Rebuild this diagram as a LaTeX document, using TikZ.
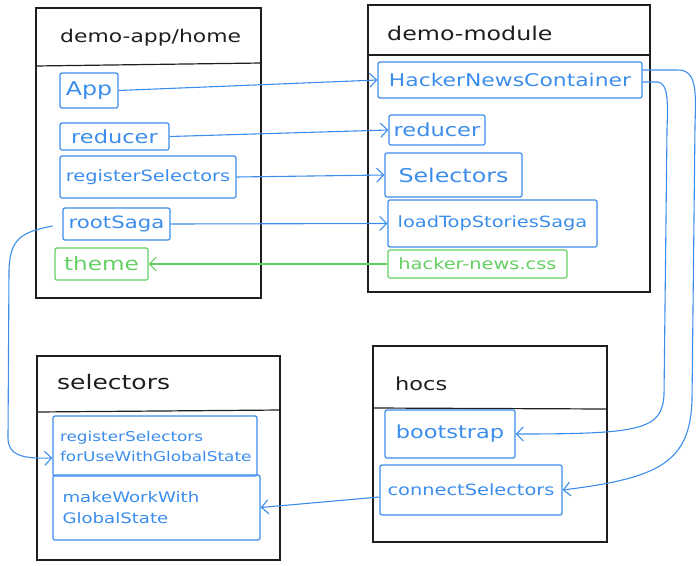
\documentclass[tikz,border=0pt]{standalone}
\usepackage{fontspec}
\setmainfont[FakeStretch=1.25]{DejaVu Sans}
\usetikzlibrary{arrows.meta}
\definecolor{inkblue}{HTML}{3C8DEB}
\definecolor{inkgreen}{HTML}{63D063}
\definecolor{ink}{HTML}{1E1E1E}
\newcommand{\sz}[1]{\fontsize{#1}{#1}\selectfont}
\begin{document}
\begin{tikzpicture}[x=1pt,y=-1pt,
  frame/.style={draw=ink, line width=1.3pt, inner sep=0pt},
  header/.style={draw=ink, line width=1.2pt},
  title/.style={anchor=west, text=ink, inner sep=0pt},
  item/.style={draw=inkblue, line width=1.2pt, rounded corners=2pt, text=inkblue,
    inner sep=0pt, align=left},
  gitem/.style={item, draw=inkgreen, text=inkgreen},
  link/.style={draw=inkblue, line width=1.1pt, -{Straight Barb[length=7pt,width=14pt,line width=1.1pt]}},
  glink/.style={link, draw=inkgreen}
]
\useasboundingbox (0,0) rectangle (700,565);

% package frames
\node[frame, minimum width=225pt, minimum height=290pt] (home) at (148.5,153) {};
\node[frame, minimum width=282pt, minimum height=287pt] (module) at (509,148.5) {};
\node[frame, minimum width=243pt, minimum height=204pt] (selpkg) at (158.5,458) {};
\node[frame, minimum width=234pt, minimum height=196pt] (hocs) at (490,444) {};

% header separators
\draw[header] (home.west |- 0,66) -- (home.east |- 0,63);
\draw[header] (module.west |- 0,55) -- (module.east |- 0,55);
\draw[header] (selpkg.west |- 0,412) -- (selpkg.east |- 0,410);
\draw[header] (hocs.west |- 0,408) -- (hocs.east |- 0,409);

% titles
\node[title, font=\sz{17.5}] (thome) at (60,38) {demo-app/home};
\node[title, font=\sz{19}] (tmodule) at (387,33) {demo-module};
\node[title, font=\sz{20}] (tsel) at (57,382) {selectors};
\node[title, font=\sz{18}] (thocs) at (395,384) {hocs};

% demo-app/home entries
\node[item, minimum width=58pt, minimum height=35pt, font=\sz{19}] (app) at (89,90.5) {App};
\node[item, minimum width=109pt, minimum height=27pt, font=\sz{18}] (red1) at (114.5,136.5) {reducer};
\node[item, minimum width=176pt, minimum height=42pt, font=\sz{15.5}] (regsel) at (148,177) {registerSelectors};
\node[item, minimum width=107pt, minimum height=32pt, font=\sz{17}] (root) at (116.5,224) {rootSaga};
\node[gitem, minimum width=93pt, minimum height=32pt, font=\sz{18.5}] (theme) at (101.5,264) {theme};

% demo-module entries
\node[item, minimum width=264pt, minimum height=36pt, font=\sz{17.5}] (hnc) at (510,80) {HackerNewsContainer};
\node[item, minimum width=96pt, minimum height=30pt, font=\sz{18}] (red2) at (437,130) {reducer};
\node[item, minimum width=137pt, minimum height=44pt, font=\sz{19}] (sel) at (453.5,175) {Selectors};
\node[item, minimum width=209pt, minimum height=47pt, font=\sz{15.5}] (load) at (492.5,223.5) {loadTopStoriesSaga};
\node[gitem, minimum width=179pt, minimum height=28pt, font=\sz{15.5}] (css) at (477.5,264) {hacker-news.css};

% selectors entries (two-line labels, set flush left)
\node[item, minimum width=204pt, minimum height=60pt, text width=190pt,
  font=\fontsize{13.5}{20}\selectfont] (regfor) at (155,446) {registerSelectors\\forUseWithGlobalState};
\node[item, minimum width=207pt, minimum height=65pt, text width=188pt,
  font=\fontsize{14.5}{21}\selectfont] (mkwork) at (156.5,507.5) {makeWorkWith\\GlobalState};

% hocs entries
\node[item, minimum width=130pt, minimum height=48pt, font=\sz{18}] (boot) at (450,434) {bootstrap};
\node[item, minimum width=182pt, minimum height=50pt, font=\sz{15.5}] (consel) at (471,490) {connectSelectors};

% connectors
\draw[link] (app.east) -- (hnc.west);
\draw[link] (red1.east) -- (red2.west);
\draw[link] (regsel.east) -- (sel.west);
\draw[link] (root.east) -- (load.west);
\draw[glink] (css.west) -- (theme.east);
\draw[link] ([yshift=10pt]hnc.east) -- (678,70)
  .. controls (697,70) and (696,92) .. (695,125) -- (692,400)
  .. controls (690,462) and (660,478) .. (consel.east);
\draw[link] ([yshift=-2pt]hnc.east) -- (658,82)
  .. controls (668,84) and (668,100) .. (667,130) -- (664,395)
  .. controls (662,430) and (640,434) .. (boot.east);
\draw[link, shorten <=10pt] (root.west) .. controls (22,232) and (10,238) .. (9,270)
  -- (8,438) .. controls (8,455) and (22,459) .. ([yshift=-12pt]regfor.west);
\draw[link] ([yshift=-7pt]consel.west) -- (mkwork.east);
\end{tikzpicture}
\end{document}
